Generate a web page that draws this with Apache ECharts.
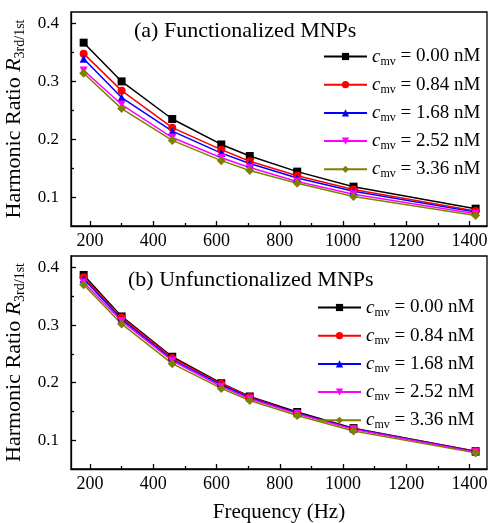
<!DOCTYPE html>
<html>
<head>
<meta charset="utf-8">
<script src="https://cdn.jsdelivr.net/npm/echarts@6/dist/echarts.min.js"></script>
<style>html,body{margin:0;padding:0;background:#fff}#c{width:489px;height:523px}</style>
</head>
<body>
<div id="c"></div>
<script>
const freqs = [180, 300, 460, 615, 705, 855, 1033, 1419];
const concLabels = ['0.00', '0.84', '1.68', '2.52', '3.36'];
const xTicks = [200, 400, 600, 800, 1000, 1200, 1400];
const xMinor = [300, 500, 700, 900, 1100, 1300];
const yTicks = [0.1, 0.2, 0.3, 0.4];
const yMinor = [0.15, 0.25, 0.35];

// Panel (a) Functionalized MNPs
const funcA0 = [0.367, 0.300, 0.235, 0.191, 0.171, 0.144, 0.118, 0.080];
const funcA1 = [0.348, 0.284, 0.220, 0.182, 0.162, 0.137, 0.113, 0.076];
const funcA2 = [0.339, 0.272, 0.214, 0.176, 0.158, 0.133, 0.110, 0.074];
const funcA3 = [0.319, 0.260, 0.203, 0.168, 0.151, 0.127, 0.105, 0.071];
const funcA4 = [0.314, 0.253, 0.198, 0.163, 0.146, 0.124, 0.101, 0.068];
// Panel (b) Unfunctionalized MNPs
const unfB0 = [0.387, 0.315, 0.245, 0.199, 0.176, 0.149, 0.121, 0.081];
const unfB1 = [0.383, 0.313, 0.243, 0.198, 0.175, 0.147, 0.120, 0.081];
const unfB2 = [0.380, 0.310, 0.240, 0.196, 0.174, 0.147, 0.120, 0.080];
const unfB3 = [0.374, 0.307, 0.238, 0.193, 0.172, 0.146, 0.119, 0.079];
const unfB4 = [0.370, 0.302, 0.233, 0.190, 0.169, 0.143, 0.116, 0.078];

const panelA = [funcA0, funcA1, funcA2, funcA3, funcA4];
const panelB = [unfB0, unfB1, unfB2, unfB3, unfB4];

const FONT = '"Liberation Serif", "Times New Roman", serif';
const colors = ['#000000', '#ff0000', '#0000ff', '#ff00ff', '#808000'];
const symbols = ['rect', 'circle', 'triangle', 'triangle', 'diamond'];
const rotates = [0, 0, 0, 180, 0];
const sizes = [8, 8, 8, 8, 9];

const grids = [
  {left: 71, top: 12, right: 2, height: 214},
  {left: 71, top: 256, right: 2, height: 213}
];

function xAxes(gi, showName) {
  return [
    {type: 'value', gridIndex: gi, min: 140, max: 1455, position: 'bottom',
     axisLine: {show: true, lineStyle: {color: '#000', width: 1.3}},
     axisTick: {show: true, inside: true, length: 5, customValues: xTicks, lineStyle: {color: '#000', width: 1.3}},
     axisLabel: {show: true, customValues: xTicks, margin: 6, color: '#000', fontSize: 18, fontFamily: FONT,
                 formatter: v => String(Math.round(v))},
     splitLine: {show: false},
     name: showName ? 'Frequency (Hz)' : '', nameLocation: 'middle', nameGap: 33,
     nameTextStyle: {color: '#000', fontSize: 21, fontFamily: FONT}},
    {type: 'value', gridIndex: gi, min: 140, max: 1455, position: 'bottom',
     axisLine: {show: false},
     axisTick: {show: true, inside: true, length: 3, customValues: xMinor, lineStyle: {color: '#000', width: 1.3}},
     axisLabel: {show: false}, splitLine: {show: false}}
  ];
}
function yAxes(gi, min, max) {
  return [
    {type: 'value', gridIndex: gi, min: min, max: max, position: 'left',
     axisLine: {show: true, lineStyle: {color: '#000', width: 1.3}},
     axisTick: {show: true, inside: true, length: 5, customValues: yTicks, lineStyle: {color: '#000', width: 1.3}},
     axisLabel: {show: true, customValues: yTicks, margin: 12, color: '#000', fontSize: 17, fontFamily: FONT,
                 formatter: v => v.toFixed(1)},
     splitLine: {show: false},
     name: 'Harmonic Ratio {i|R}{s|3rd/1st}', nameLocation: 'middle', nameGap: 35, nameRotate: 90,
     nameTextStyle: {color: '#000', fontSize: 22, fontFamily: FONT, lineHeight: 26,
       rich: {
         i: {fontStyle: 'italic', fontSize: 22, fontFamily: FONT, color: '#000', lineHeight: 26},
         s: {fontSize: 14, fontFamily: FONT, color: '#000', lineHeight: 12, verticalAlign: 'bottom'}
       }}},
    {type: 'value', gridIndex: gi, min: min, max: max, position: 'left',
     axisLine: {show: false},
     axisTick: {show: true, inside: true, length: 3, customValues: yMinor, lineStyle: {color: '#000', width: 1.3}},
     axisLabel: {show: false}, splitLine: {show: false}}
  ];
}

const series = [];
const namesA = [], namesB = [];
[panelA, panelB].forEach((panel, pi) => {
  panel.forEach((vals, k) => {
    const nm = (pi === 0 ? 'a' : 'b') + k;
    (pi === 0 ? namesA : namesB).push(nm);
    series.push({
      name: nm, type: 'line', xAxisIndex: pi * 2, yAxisIndex: pi * 2,
      data: freqs.map((f, j) => [f, vals[j]]),
      symbol: symbols[k], symbolSize: sizes[k], symbolRotate: rotates[k],
      lineStyle: {color: colors[k], width: 1.5},
      itemStyle: {color: colors[k]},
      animation: false
    });
  });
});

const legendRich = {
  c: {fontStyle: 'italic', fontSize: 19, fontFamily: FONT, color: '#000', lineHeight: 22},
  s: {fontSize: 12, fontFamily: FONT, color: '#000', lineHeight: 10, verticalAlign: 'bottom'},
  t: {fontSize: 19, fontFamily: FONT, color: '#000', lineHeight: 22}
};
function legendFmt(name) {
  const k = +name.slice(1);
  return '{c|c}{s|mv}{t| = ' + concLabels[k] + ' nM}';
}
function legend(names, left, top) {
  return {
    data: names, orient: 'vertical', left: left, top: top,
    itemWidth: 43, itemHeight: 9, itemGap: 7.7, padding: 0,
    formatter: legendFmt, selectedMode: false,
    textStyle: {fontFamily: FONT, fontSize: 19, color: '#000', rich: legendRich}
  };
}

const option = {
  backgroundColor: '#fff',
  animation: false,
  title: [
    {text: '(a) Functionalized MNPs', left: 134, top: 20, padding: 0,
     textStyle: {fontFamily: FONT, fontSize: 22, fontWeight: 'normal', color: '#000'}},
    {text: '(b) Unfunctionalized MNPs', left: 128, top: 269, padding: 0,
     textStyle: {fontFamily: FONT, fontSize: 22, fontWeight: 'normal', color: '#000'}}
  ],
  grid: grids.map(g => Object.assign({show: true, borderColor: '#000', borderWidth: 1.3,
    backgroundColor: 'transparent', containLabel: false, outerBoundsMode: 'none'}, g)),
  legend: [legend(namesA, 323, 47), legend(namesB, 317, 298)],
  xAxis: xAxes(0, false).concat(xAxes(1, true)),
  yAxis: yAxes(0, 0.05, 0.42).concat(yAxes(1, 0.05, 0.42)),
  series: series
};

const chart = echarts.init(document.getElementById('c'), null, {renderer: 'canvas'});
chart.setOption(option);
</script>
</body>
</html>
